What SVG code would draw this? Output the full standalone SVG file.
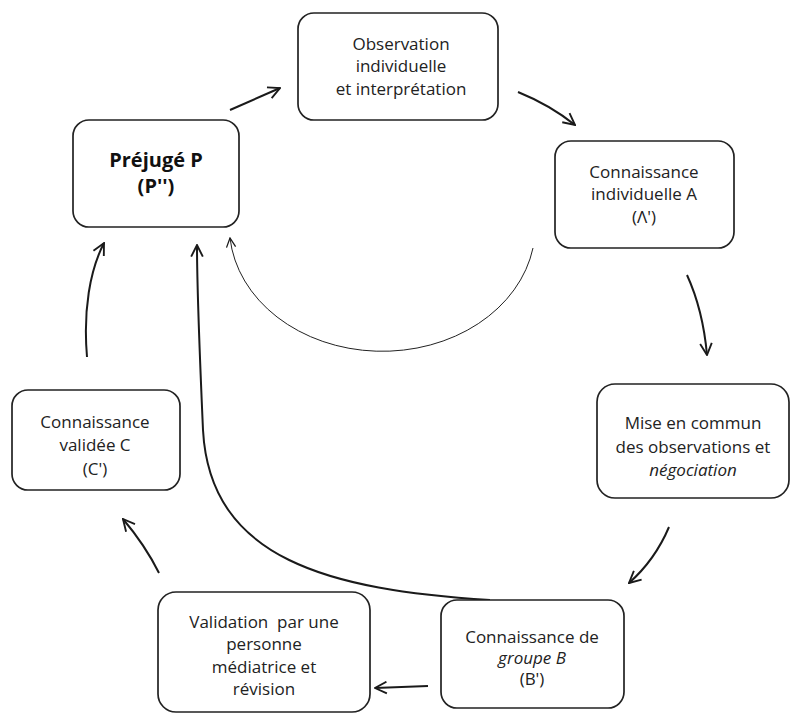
<svg xmlns="http://www.w3.org/2000/svg" width="794" height="719" viewBox="0 0 794 719">
<defs>
<style>
.box{fill:#fff;stroke:#222;stroke-width:1.7}
.t{font-family:"Open Sans","Liberation Sans",sans-serif;font-size:17px;fill:#222;text-anchor:middle}
.b{font-weight:bold;font-size:20px;fill:#111}
.i{font-style:italic}
.pre{white-space:pre}
.arr{fill:none;stroke:#1a1a1a;stroke-width:2;marker-end:url(#ah)}
.thin{fill:none;stroke:#222;stroke-width:1;marker-end:url(#ah2)}
</style>
<marker id="ah" viewBox="0 0 12 12" refX="11" refY="6" markerWidth="7" markerHeight="7" orient="auto" markerUnits="strokeWidth">
<path d="M1,1 L11,6 L1,11" fill="none" stroke="#1a1a1a" stroke-width="1.6"/>
</marker>
<marker id="ah2" viewBox="0 0 12 12" refX="11" refY="6" markerWidth="11" markerHeight="11" orient="auto" markerUnits="strokeWidth">
<path d="M1,1 L11,6 L1,11" fill="none" stroke="#1a1a1a" stroke-width="1.4"/>
</marker>
</defs>
<rect width="794" height="719" fill="#fff"/>
<g id="connectors">
<path class="arr" d="M230 110 L280 88"/>
<path class="arr" d="M518 92 Q550 105 575 125"/>
<path class="arr" d="M687 275 Q703 310 707 355"/>
<path class="arr" d="M669 527 Q655 560 629 583"/>
<path class="arr" d="M428 686 L375 688"/>
<path class="arr" d="M159 573 Q145 545 123 519"/>
<path class="arr" d="M87 357 C83 310 90 270 104 243"/>
<path class="arr" d="M490 600 C330 590 210 560 203 430 C199 340 197 290 197 245"/>
<path class="thin" d="M533 248 A153 125 0 0 1 230 238"/>
</g>
<g id="prejuge">
<rect class="box" x="73" y="120" width="166" height="107" rx="16"/>
<text class="t b" x="156" y="167">Préjugé P</text>
<text class="t b" x="156" y="193">(P'')</text>
</g>
<g id="observation">
<rect class="box" x="298" y="13" width="200" height="107" rx="16"/>
<text class="t" x="401" y="50">Observation</text>
<text class="t" x="401" y="72">individuelle</text>
<text class="t" x="401" y="95">et interprétation</text>
</g>
<g id="connaissanceA">
<rect class="box" x="555" y="141" width="179" height="107" rx="16"/>
<text class="t" x="644" y="178">Connaissance</text>
<text class="t" x="644" y="200">individuelle A</text>
<text class="t" x="644" y="223">(Λ')</text>
</g>
<g id="miseEnCommun">
<rect class="box" x="597" y="384" width="192" height="114" rx="18"/>
<text class="t" x="693" y="429">Mise en commun</text>
<text class="t" x="693" y="453">des observations et</text>
<text class="t i" x="693" y="476">négociation</text>
</g>
<g id="groupeB">
<rect class="box" x="441" y="600" width="183" height="108" rx="16"/>
<text class="t" x="532" y="643">Connaissance de</text>
<text class="t i" x="532" y="664">groupe B</text>
<text class="t" x="532" y="685">(B')</text>
</g>
<g id="validation">
<rect class="box" x="158" y="592" width="212" height="120" rx="18"/>
<text class="t pre" x="264" y="628">Validation  par une</text>
<text class="t" x="264" y="650">personne</text>
<text class="t" x="264" y="673">médiatrice et</text>
<text class="t" x="264" y="695">révision</text>
</g>
<g id="connaissanceC">
<rect class="box" x="12" y="390" width="168" height="100" rx="16"/>
<text class="t" x="95" y="428">Connaissance</text>
<text class="t" x="95" y="451">validée C</text>
<text class="t" x="95" y="475">(C')</text>
</g>
</svg>
